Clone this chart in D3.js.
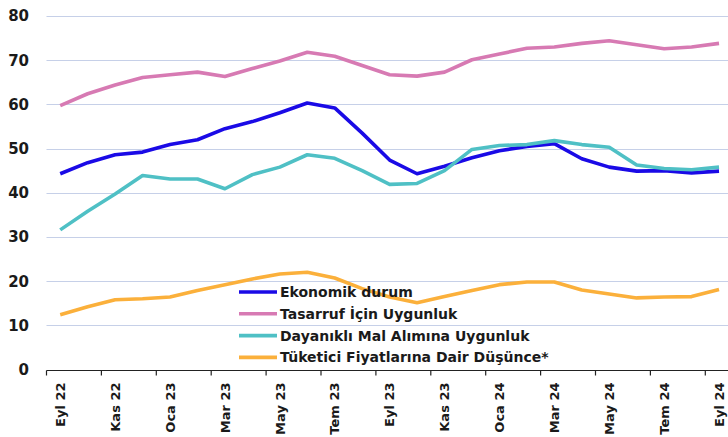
<!DOCTYPE html>
<html>
<head>
<meta charset="utf-8">
<script src="https://cdn.jsdelivr.net/npm/d3@7"></script>
<style>
  html, body { margin: 0; padding: 0; background: #fff; }
  svg { display: block; font-family: "DejaVu Sans", sans-serif; font-weight: 700; }
</style>
</head>
<body>
<div id="chart"></div>
<script>
const months = ["Eyl 22","Eki 22","Kas 22","Ara 22","Oca 23","Şub 23","Mar 23","Nis 23","May 23","Haz 23","Tem 23","Ağu 23",
  "Eyl 23","Eki 23","Kas 23","Ara 23","Oca 24","Şub 24","Mar 24","Nis 24","May 24","Haz 24","Tem 24","Ağu 24","Eyl 24"];
const tickLabels = ["Eyl 22","Kas 22","Oca 23","Mar 23","May 23","Tem 23","Eyl 23","Kas 23","Oca 24","Mar 24","May 24","Tem 24","Eyl 24"];
const yTicks = [0, 10, 20, 30, 40, 50, 60, 70, 80];

const ekonomik = [44.3,46.8,48.6,49.2,50.9,52.0,54.5,56.1,58.1,60.3,59.2,53.5,47.4,44.3,46.0,47.9,49.5,50.5,51.1,47.7,45.8,44.9,45.0,44.5,44.9];
const tasarruf = [59.7,62.4,64.4,66.1,66.7,67.3,66.3,68.1,69.8,71.8,70.9,68.8,66.7,66.4,67.3,70.1,71.4,72.7,73.0,73.8,74.4,73.5,72.6,73.0,73.8];
const dayanikli = [31.6,35.8,39.7,43.9,43.1,43.1,40.9,44.1,45.8,48.6,47.8,45.0,41.9,42.1,45.0,49.8,50.7,50.9,51.8,50.9,50.3,46.3,45.5,45.2,45.8];
const tuketici = [12.4,14.2,15.8,16.0,16.4,17.9,19.2,20.5,21.6,22.0,20.7,18.3,16.4,15.1,16.5,17.9,19.2,19.8,19.8,18.0,17.1,16.2,16.4,16.5,18.1];

const series = [
  { name: "Ekonomik durum", values: ekonomik, color: "#1a0ae6" },
  { name: "Tasarruf İçin Uygunluk", values: tasarruf, color: "#d77ab3" },
  { name: "Dayanıklı Mal Alımına Uygunluk", values: dayanikli, color: "#4fc0c5" },
  { name: "Tüketici Fiyatlarına Dair Düşünce*", values: tuketici, color: "#fbb03b" }
];

const W = 728, H = 437;
const svg = d3.select("#chart").append("svg").attr("width", W).attr("height", H);

const x = d3.scaleBand().domain(months).range([46.5, 46.5 + 25 * 27.45]);
const y = d3.scaleLinear().domain([0, 80]).range([369.5, 16]);

// gridlines
svg.append("g")
  .selectAll("line")
  .data(yTicks.filter(d => d > 0))
  .enter().append("line")
  .attr("x1", 46.5).attr("x2", W)
  .attr("y1", d => Math.round(y(d)) + 0.5).attr("y2", d => Math.round(y(d)) + 0.5)
  .attr("stroke", "#c6d0e8").attr("stroke-width", 1.2);

// y labels
svg.append("g")
  .selectAll("text")
  .data(yTicks)
  .enter().append("text")
  .attr("x", 29).attr("y", d => y(d)).attr("dy", "0.36em")
  .attr("text-anchor", "end")
  .attr("font-size", 15).attr("fill", "#1a1a1a")
  .text(d => d);

// x axis
const xAxis = svg.append("g")
  .attr("transform", `translate(0,${Math.round(y(0)) + 0.5})`)
  .call(d3.axisBottom(x).tickValues(tickLabels).tickSize(0).tickPadding(0));
xAxis.select(".domain").attr("stroke", "#222").attr("stroke-width", 1.2).attr("d", `M46.5,0H${W}`);
xAxis.selectAll(".tick text")
  .attr("transform", "rotate(-90)")
  .attr("x", -12).attr("y", 0).attr("dy", "0.36em")
  .style("text-anchor", "end")
  .attr("font-size", 13)
  .attr("font-family", "'DejaVu Sans', sans-serif").attr("font-weight", 700)
  .attr("fill", "#1a1a1a");
// boundary tick marks every two months
xAxis.selectAll(".tick").append("line")
  .attr("x1", -x.bandwidth() / 2).attr("x2", -x.bandwidth() / 2)
  .attr("y1", 0).attr("y2", 5)
  .attr("stroke", "#222").attr("stroke-width", 1.2);

// lines
const line = d3.line()
  .x((d, i) => x(months[i]) + x.bandwidth() / 2)
  .y(d => y(d));

svg.append("g")
  .selectAll("path")
  .data(series)
  .enter().append("path")
  .attr("d", d => line(d.values))
  .attr("fill", "none")
  .attr("stroke", d => d.color)
  .attr("stroke-width", 3.6)
  .attr("stroke-linejoin", "round");

// legend
const legend = svg.append("g").attr("transform", "translate(239,292)");
const row = legend.selectAll("g")
  .data(series)
  .enter().append("g")
  .attr("transform", (d, i) => `translate(0,${i * 21.8})`);
row.append("line")
  .attr("x1", 0).attr("x2", 38)
  .attr("stroke", d => d.color).attr("stroke-width", 3.6);
row.append("text")
  .attr("x", 41).attr("dy", "0.36em")
  .attr("font-size", 14).attr("fill", "#1a1a1a")
  .text(d => d.name);
</script>
</body>
</html>
